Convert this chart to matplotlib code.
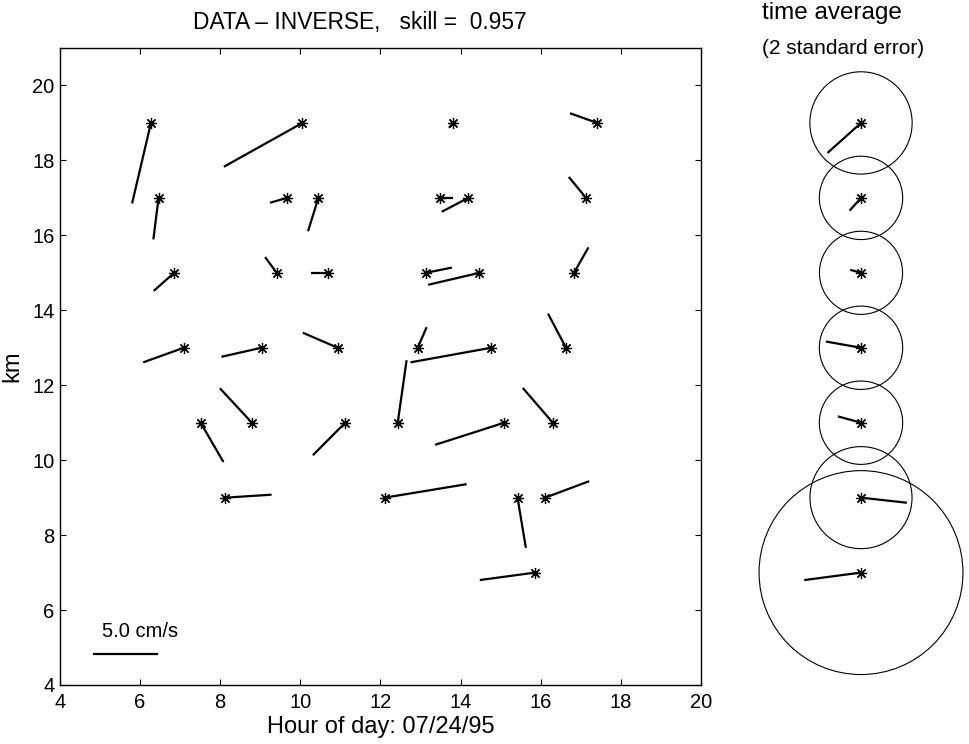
import matplotlib
matplotlib.use("Agg")
import matplotlib.pyplot as plt
from matplotlib.patches import Circle
import numpy as np

plt.rcParams['font.family'] = ['Liberation Sans', 'DejaVu Sans']

# ---- data: station positions (hour, km) and velocities (cm/s) ----
hour = [6.27, 10.05, 13.82, 17.41,
        6.46, 9.67, 10.45, 13.49, 14.19, 17.13,
        6.85, 9.41, 10.70, 13.13, 14.47, 16.83,
        7.09, 9.03, 10.93, 12.93, 14.76, 16.63,
        7.51, 8.79, 11.12, 12.43, 15.09, 16.30,
        8.13, 12.11, 15.42, 16.11,
        15.86]
km = [19, 19, 19, 19,
      17, 17, 17, 17, 17, 17,
      15, 15, 15, 15, 15, 15,
      13, 13, 13, 13, 13, 13,
      11, 11, 11, 11, 11, 11,
      9, 9, 9, 9,
      7]
u = [-1.49, -6.20, -0.35, -2.15,
     -0.41, -1.36, -0.82, 1.04, -2.09, -1.36,
     -1.61, -0.92, -1.36, 2.06, -4.05, 1.14,
     -3.20, -3.16, -2.75, 0.70, -6.36, -1.42,
     1.80, -2.53, -2.56, 0.70, -5.47, -2.37,
     3.64, 6.46, 0.66, 3.48,
     -4.37]
v = [-6.80, -3.70, -0.41, 0.82,
     -3.51, -0.41, -2.82, 0.00, -1.17, 1.77,
     -1.52, 1.33, 0.00, 0.44, -1.01, 2.15,
     -1.23, -0.76, 1.27, 1.74, -1.23, 2.88,
     -3.32, 2.91, -2.75, 5.28, -1.87, 2.94,
     0.25, 1.14, -4.24, 1.39,
     -0.63]

# time-average panel
avg_km = [19, 17, 15, 13, 11, 9, 7]
avg_u = [-2.76, -0.90, -0.82, -2.87, -1.86, 3.78, -4.70]
avg_v = [-2.47, -1.01, 0.23, 0.51, 0.51, -0.42, -0.62]
avg_2se = [4.32, 3.52, 3.51, 3.52, 3.52, 4.31, 8.61]

scale_speed = 5.0          # cm/s reference
S = 0.316                  # data units per cm/s

W, H = 970, 744
fig = plt.figure(figsize=(W / 100, H / 100), dpi=100)


def rect(l, t, r, b):
    return [l / W, 1 - b / H, (r - l) / W, (b - t) / H]


ax = fig.add_axes(rect(60, 48, 701, 685))
ax.set_xlim(4, 20)
ax.set_ylim(4, 21)
ax.set_xticks(np.arange(4, 21, 2))
ax.set_yticks(np.arange(4, 21, 2))
ax.tick_params(direction='in', top=True, right=True, length=4.5, width=0.8,
               labelsize=14.5)
ax.tick_params(axis='x', pad=6)
ax.tick_params(axis='y', pad=4)
for sp in ax.spines.values():
    sp.set_linewidth(1.0)

star = (8, 2, 0)
for x, y, uu, vv in zip(hour, km, u, v):
    ax.plot([x, x + uu * S], [y, y + vv * S], color='black', lw=1.6,
            solid_capstyle='butt')
ax.plot(hour, km, linestyle='none', marker=star, markersize=8,
        markeredgewidth=0.9, color='black')

# scale bar
ax.plot([4.85, 4.85 + scale_speed * S], [4.84, 4.84], color='black', lw=1.6)
ax.text(5.04, 5.29, f"{scale_speed:.1f} cm/s", fontsize=14.5,
        ha='left', va='baseline')

ax.set_xlabel("Hour of day: 07/24/95", fontsize=17, labelpad=3)
ax.set_ylabel("km", fontsize=17, labelpad=6)
fig.text(360 / W, 1 - 22 / H, "DATA – INVERSE,   skill =  0.957",
         fontsize=16.4, ha='center', va='center')

# ---- time average panel ----
ax2 = fig.add_axes(rect(740, 48, 970, 685))
ax2.axis('off')
ppu = 637 / 17.0
ax2.set_ylim(4, 21)
ax2.set_xlim((740 - 861) / ppu, (970 - 861) / ppu)
for y, uu, vv, r in zip(avg_km, avg_u, avg_v, avg_2se):
    ax2.add_patch(Circle((0, y), r * S, fill=False, ec='black', lw=0.8,
                         clip_on=False))
    ax2.plot([0, uu * S], [y, y + vv * S], color='black', lw=1.6,
             clip_on=False)
ax2.plot([0] * len(avg_km), avg_km, linestyle='none', marker=star,
         markersize=8, markeredgewidth=0.9, color='black', clip_on=False)

fig.text(762 / W, 1 - 13 / H, "time average", fontsize=17.5,
         ha='left', va='center')
fig.text(762 / W, 1 - 49 / H, "(2 standard error)", fontsize=15,
         ha='left', va='center')

fig.savefig("out.png", dpi=100)
